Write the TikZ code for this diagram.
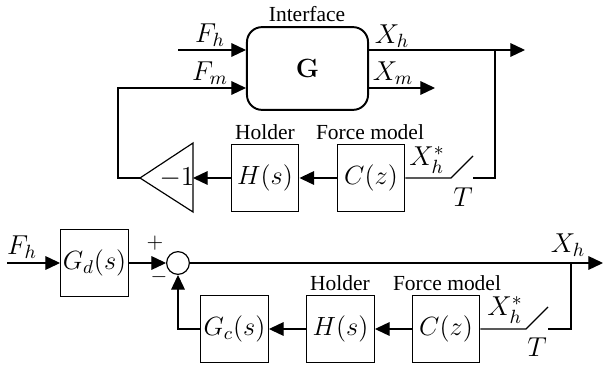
\RequirePackage{fix-cm}
\documentclass[tikz,border=0pt]{standalone}
\usetikzlibrary{arrows.meta}
\usepackage{amsmath}
\usepackage[no-math]{fontspec}
\setmainfont{Liberation Serif}

\begin{document}
\begin{tikzpicture}[x=0.018cm,y=-0.018cm,line width=0.6pt,>={Triangle[length=7.5pt,width=7pt]},
  blk/.style={draw,minimum width=1.22cm,minimum height=1.22cm,inner sep=0pt,font=\fontsize{13.5}{15}\selectfont},
  sig/.style={font=\fontsize{14}{16}\selectfont},
  lbl/.style={font=\fontsize{11}{13}\selectfont},
  sumnode/.style={draw,circle,minimum size=0.41cm,inner sep=0pt}]
\useasboundingbox (0,0) rectangle (603,371);
% ================ 上半：接口模型 ================
\node[draw,line width=1pt,rounded corners=0.27cm,minimum width=2.18cm,minimum height=1.49cm,font=\fontsize{13.5}{15}\selectfont] (G) at (307.5,68.5) {$\mathbf{G}$};
\node[lbl] (iface) at (307,14) {Interface};
\coordinate (fhin) at (178,50);
\coordinate (fmlvl) at (0,88);
\draw[->] (fhin) -- (fhin -| G.west);
\node[sig] (fhlbl) at (210,35) {$F_h$};
\node[sig] (fmlbl) at (210,73) {$F_m$};
\coordinate (xhout) at (525,50);
\coordinate (xmout) at (435,88);
\draw[->] (G.east |- fhin) -- (xhout);
\draw[->] (G.east |- fmlvl) -- (xmout);
\node[sig] (xhlbl) at (392,36) {$X_h$};
\node[sig] (xmlbl) at (393,73) {$X_m$};
% 反馈支路：采样开关、力模型、保持器、-1
\node[blk] (C1) at (371,178) {$C(z)$};
\node[blk] (H1) at (265,178) {$H(s)$};
\node[lbl] (fm1) at (370,132) {Force model};
\node[lbl] (hd1) at (265,132) {Holder};
\coordinate (tapA) at (495,50);
\coordinate (swA) at (473,178);
\coordinate (swAl) at (451,178);
\draw (tapA) |- (swA);
\draw (C1) -- (swAl) -- ++(22,-22);
\node[sig] (xs1) at (427,160) {$X_h^*$};
\node[sig] (t1) at (463,197) {$T$};
\coordinate (negtip) at (140,178);
\coordinate (negin) at (193,178);
\draw (negtip) -- (193,143) -- (193,212) -- cycle;
\node[sig] (neg) at (177,178) {$-1$};
\draw[->] (C1) -- (H1);
\draw[->] (H1) -- (negin);
\coordinate (fmcorner) at (118,178);
\draw[->] (negtip) -- (fmcorner) |- (G.west |- fmlvl);
% ================ 下半：等效闭环 ================
\coordinate (fhin2) at (7,263);
\node[blk] (Gd) at (94.5,263) {$G_d(s)$};
\node[sumnode] (sum) at (178,263) {};
\node[lbl] (plus) at (155,243) {$+$};
\node[lbl] (minus) at (159,277) {$-$};
\node[sig] (fhlbl2) at (22,247) {$F_h$};
\draw[->] (fhin2) -- (Gd);
\draw[->] (Gd) -- (sum);
\coordinate (xhout2) at (603,263);
\draw[->] (sum) -- (xhout2);
\node[sig] (xhlbl2) at (568,245) {$X_h$};
\node[blk] (Gc) at (234.5,329) {$G_c(s)$};
\node[blk] (H2) at (340.5,329) {$H(s)$};
\node[blk] (C2) at (446,329) {$C(z)$};
\node[lbl] (hd2) at (340,283) {Holder};
\node[lbl] (fm2) at (447,283) {Force model};
\coordinate (tapB) at (571,263);
\coordinate (swB) at (548,329);
\coordinate (swBl) at (526,329);
\draw (tapB) |- (swB);
\draw (C2) -- (swBl) -- ++(22,-22);
\node[sig] (xs2) at (505,310) {$X_h^*$};
\node[sig] (t2) at (537,347) {$T$};
\draw[->] (C2) -- (H2);
\draw[->] (H2) -- (Gc);
\draw[->] (Gc) -| (sum);
\end{tikzpicture}
\end{document}
